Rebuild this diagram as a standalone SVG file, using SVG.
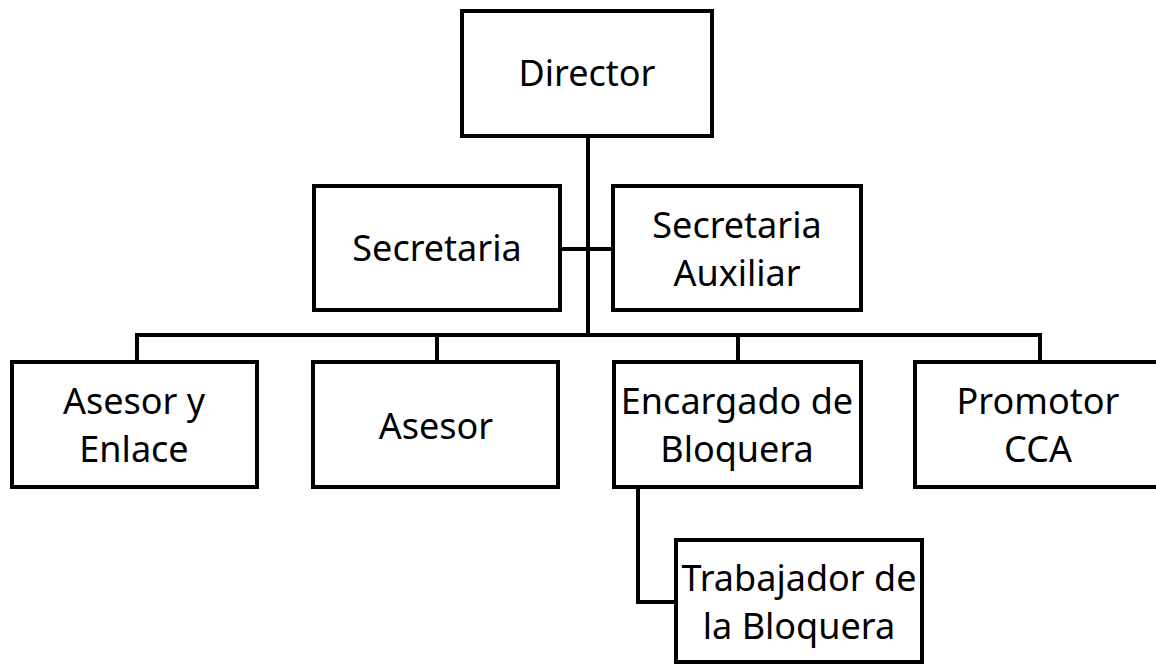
<svg xmlns="http://www.w3.org/2000/svg" width="1156" height="665" viewBox="0 0 1156 665">
<style>
.box{fill:#fff;stroke:#000;stroke-width:4}
.ln{fill:none;stroke:#000;stroke-width:4}
text{font-family:"Noto Sans","Open Sans",sans-serif;font-size:36px;fill:#000;text-anchor:middle}
</style>
<rect width="1156" height="665" fill="#fff"/>
<g id="connectors">
<path class="ln" d="M588 136V335"/>
<path class="ln" d="M560 249H613"/>
<path class="ln" d="M137 362V335H1040V362"/>
<path class="ln" d="M437 335V362"/>
<path class="ln" d="M738 335V362"/>
<path class="ln" d="M638 487V602H676"/>
</g>
<g id="director"><rect class="box" x="462" y="11" width="250" height="125"/><text x="587" y="86">Director</text></g>
<g id="secretaria"><rect class="box" x="314" y="186" width="246" height="124"/><text x="437" y="261">Secretaria</text></g>
<g id="secretaria-auxiliar"><rect class="box" x="613" y="186" width="248" height="124"/><text x="737" y="238">Secretaria</text><text x="737" y="286">Auxiliar</text></g>
<g id="asesor-enlace"><rect class="box" x="12" y="362" width="245" height="125"/><text x="134" y="414">Asesor y</text><text x="134" y="462">Enlace</text></g>
<g id="asesor"><rect class="box" x="313" y="362" width="245" height="125"/><text x="436" y="439">Asesor</text></g>
<g id="encargado"><rect class="box" x="614" y="362" width="247" height="125"/><text x="737" y="414">Encargado de</text><text x="737" y="462">Bloquera</text></g>
<g id="promotor"><rect class="box" x="915" y="362" width="250" height="125"/><text x="1038" y="414">Promotor</text><text x="1038" y="462">CCA</text></g>
<g id="trabajador"><rect class="box" x="676" y="540" width="246" height="122"/><text x="799" y="591">Trabajador de</text><text x="799" y="639">la Bloquera</text></g>
</svg>
